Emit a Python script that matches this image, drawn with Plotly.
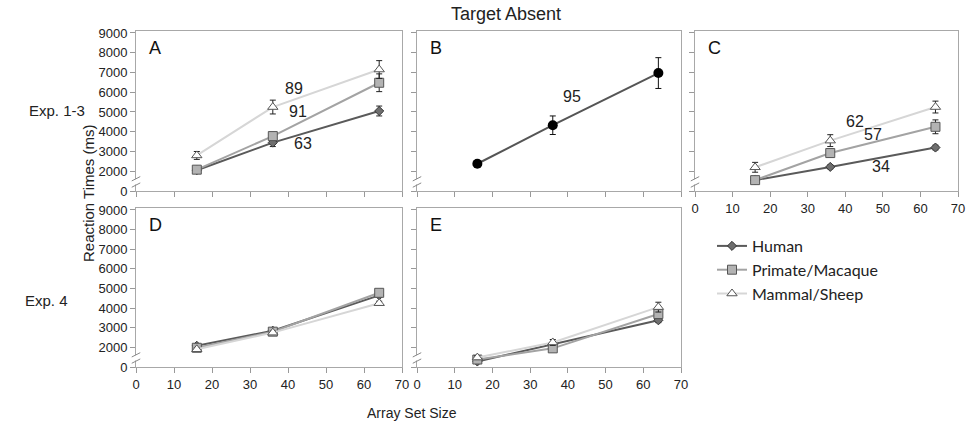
import plotly.graph_objects as go

W, H = 971, 431

set_sizes = [16, 36, 64]

# Panel A (Exp. 1-3)
A_human = [2050, 3450, 5050]; A_human_err = [100, 200, 250]
A_primate = [2080, 3780, 6480]; A_primate_err = [100, 150, 450]
A_mammal = [2800, 5250, 7150]; A_mammal_err = [200, 350, 450]
# Panel B (Exp. 1-3)
B_human = [2380, 4330, 6970]; B_human_err = [120, 470, 780]
# Panel C (Exp. 1-3)
C_human = [1550, 2220, 3200]; C_human_err = [80, 100, 120]
C_primate = [1550, 2920, 4250]; C_primate_err = [150, 200, 350]
C_mammal = [2200, 3550, 5250]; C_mammal_err = [250, 300, 300]
# Panel D (Exp. 4)
D_human = [2080, 2850, 4650]; D_human_err = [80, 80, 100]
D_primate = [1980, 2800, 4780]; D_primate_err = [80, 80, 120]
D_mammal = [1900, 2750, 4250]; D_mammal_err = [80, 80, 100]
# Panel E (Exp. 4)
E_human = [1280, 2150, 3380]; E_human_err = [80, 100, 120]
E_primate = [1380, 1950, 3700]; E_primate_err = [80, 100, 200]
E_mammal = [1480, 2250, 4050]; E_mammal_err = [100, 150, 250]

y_tick_values = [1000, 2000, 3000, 4000, 5000, 6000, 7000, 8000, 9000]
y_tick_labels = ["0", "2000", "3000", "4000", "5000", "6000", "7000", "8000", "9000"]
x_ticks = [0, 10, 20, 30, 40, 50, 60, 70]

slope_labels_A = ["89", "91", "63"]
slope_labels_B = ["95"]
slope_labels_C = ["62", "57", "34"]

BREAK_OFFSET = 1000  # broken axis: values above the break shown shifted


def shift(vals):
    return [v - BREAK_OFFSET for v in vals]


styles = {
    "Human": dict(line="#5a5a5a", symbol="diamond", fill="#6e6e6e", edge="#333333", size=7),
    "Primate/Macaque": dict(line="#a3a3a3", symbol="square", fill="#b3b3b3", edge="#555555", size=9),
    "Mammal/Sheep": dict(line="#d6d6d6", symbol="triangle-up", fill="#ffffff", edge="#555555", size=9),
}

fig = go.Figure()

cols = [(136, 402), (417, 681), (695, 958)]
rows = [(31, 191), (208, 367)]

panels = [
    ("A", 0, 0, False, True),
    ("B", 1, 0, False, False),
    ("C", 2, 0, True, False),
    ("D", 0, 1, True, True),
    ("E", 1, 1, True, False),
]

panel_series = {
    "A": [("Human", A_human, A_human_err), ("Primate/Macaque", A_primate, A_primate_err),
          ("Mammal/Sheep", A_mammal, A_mammal_err)],
    "C": [("Human", C_human, C_human_err), ("Primate/Macaque", C_primate, C_primate_err),
          ("Mammal/Sheep", C_mammal, C_mammal_err)],
    "D": [("Human", D_human, D_human_err), ("Primate/Macaque", D_primate, D_primate_err),
          ("Mammal/Sheep", D_mammal, D_mammal_err)],
    "E": [("Human", E_human, E_human_err), ("Primate/Macaque", E_primate, E_primate_err),
          ("Mammal/Sheep", E_mammal, E_mammal_err)],
}

layout = {}
shapes = []
annotations = []

ymax_plot = 8100
tick_font = dict(family="Liberation Sans, Arial", size=13, color="#222222")

for i, (name, c, r, xl, yl) in enumerate(panels):
    idx = "" if i == 0 else str(i + 1)
    xa, ya = "xaxis" + idx, "yaxis" + idx
    xr, yr = "x" + idx, "y" + idx
    x0, x1 = cols[c]
    y0, y1 = rows[r]
    layout[xa] = dict(
        domain=[x0 / W, x1 / W], anchor=yr, range=[0, 70], tickvals=x_ticks,
        showticklabels=xl, ticks="outside", ticklen=5, tickcolor="#999999",
        showline=True, linecolor="#a8a8a8", linewidth=1, mirror=True, showgrid=False,
        zeroline=False, tickfont=tick_font, automargin=False,
    )
    layout[ya] = dict(
        domain=[1 - y1 / H, 1 - y0 / H], anchor=xr, range=[0, ymax_plot],
        tickvals=shift(y_tick_values), ticktext=y_tick_labels,
        showticklabels=yl, ticks="outside", ticklen=5, tickcolor="#999999",
        showline=True, linecolor="#a8a8a8", linewidth=1, mirror=True, showgrid=False,
        zeroline=False, tickfont=tick_font, automargin=False,
    )
    # axis break: gap in the axis line plus two slashes
    shapes.append(dict(type="rect", xref=xr + " domain", yref=yr,
                       x0=-0.012, x1=0.008, y0=330, y1=600,
                       fillcolor="white", line=dict(width=0)))
    for yv in (300, 620):
        shapes.append(dict(type="line", xref=xr + " domain", yref=yr,
                           x0=-0.016, x1=0.016, y0=yv - 110, y1=yv + 110,
                           line=dict(color="#888888", width=1)))
    annotations.append(dict(text=name, xref=xr + " domain", yref=yr + " domain",
                            x=0.04, y=0.97, xanchor="left", yanchor="top", showarrow=False,
                            font=dict(family="Liberation Sans, Arial", size=18, color="#111111")))

    if name == "B":
        fig.add_trace(go.Scatter(
            x=set_sizes, y=shift(B_human), mode="lines+markers", xaxis=xr, yaxis=yr,
            line=dict(color="#555555", width=2),
            marker=dict(symbol="circle", size=10, color="#000000"),
            error_y=dict(type="data", array=B_human_err, color="#111111", thickness=1, width=3),
            showlegend=False, hoverinfo="skip"))
    else:
        for sname, vals, errs in panel_series[name]:
            st = styles[sname]
            fig.add_trace(go.Scatter(
                x=set_sizes, y=shift(vals), mode="lines+markers", xaxis=xr, yaxis=yr,
                name=sname, legendgroup=sname, showlegend=(name == "A"),
                line=dict(color=st["line"], width=2),
                marker=dict(symbol=st["symbol"], size=st["size"], color=st["fill"],
                            line=dict(color=st["edge"], width=1)),
                error_y=dict(type="data", array=errs, color="#222222", thickness=1, width=3),
                hoverinfo="skip"))

slope_font = dict(family="Liberation Sans, Arial", size=16, color="#222222")
for txt, (xx, yy) in zip(slope_labels_A, [(41.5, 6200 - BREAK_OFFSET), (42.5, 5050 - BREAK_OFFSET),
                                          (44, 3400 - BREAK_OFFSET)]):
    annotations.append(dict(text=txt, x=xx, y=yy, xref="x", yref="y", showarrow=False, font=slope_font))
for txt, (xx, yy) in zip(slope_labels_B, [(41, 5800 - BREAK_OFFSET)]):
    annotations.append(dict(text=txt, x=xx, y=yy, xref="x2", yref="y2", showarrow=False, font=slope_font))
for txt, (xx, yy) in zip(slope_labels_C, [(42.5, 4500 - BREAK_OFFSET), (47.5, 3850 - BREAK_OFFSET),
                                          (49.5, 2250 - BREAK_OFFSET)]):
    annotations.append(dict(text=txt, x=xx, y=yy, xref="x3", yref="y3", showarrow=False, font=slope_font))

label_font = dict(family="Liberation Sans, Arial", size=15, color="#222222")
ctr = dict(xref="paper", yref="paper", xanchor="center", yanchor="middle", showarrow=False)
annotations += [
    dict(text="Target Absent", x=506 / W, y=1 - 14 / H,
         font=dict(family="Liberation Sans, Arial", size=18, color="#222222"), **ctr),
    dict(text="Exp. 1-3", x=57 / W, y=1 - 110 / H, font=label_font, **ctr),
    dict(text="Exp. 4", x=46 / W, y=1 - 300 / H, font=label_font, **ctr),
    dict(text="Reaction Times (ms)", x=89 / W, y=1 - 193 / H, textangle=-90, font=label_font, **ctr),
    dict(text="Array Set Size", x=412 / W, y=1 - 413 / H,
         font=dict(family="Liberation Sans, Arial", size=14, color="#222222"), **ctr),
]

fig.update_layout(
    width=W, height=H, margin=dict(l=0, r=0, t=0, b=0, pad=0, autoexpand=False),
    paper_bgcolor="white", plot_bgcolor="white",
    shapes=shapes, annotations=annotations,
    legend=dict(x=712 / W, y=1 - 229 / H, xanchor="left", yanchor="top",
                font=dict(family="Lato, Open Sans", size=16, color="#222222"),
                bgcolor="rgba(0,0,0,0)", tracegroupgap=0, itemwidth=30),
    **layout,
)

fig.write_html("out.html", config={"displayModeBar": False},
               post_script="document.body.style.margin='0px';")
